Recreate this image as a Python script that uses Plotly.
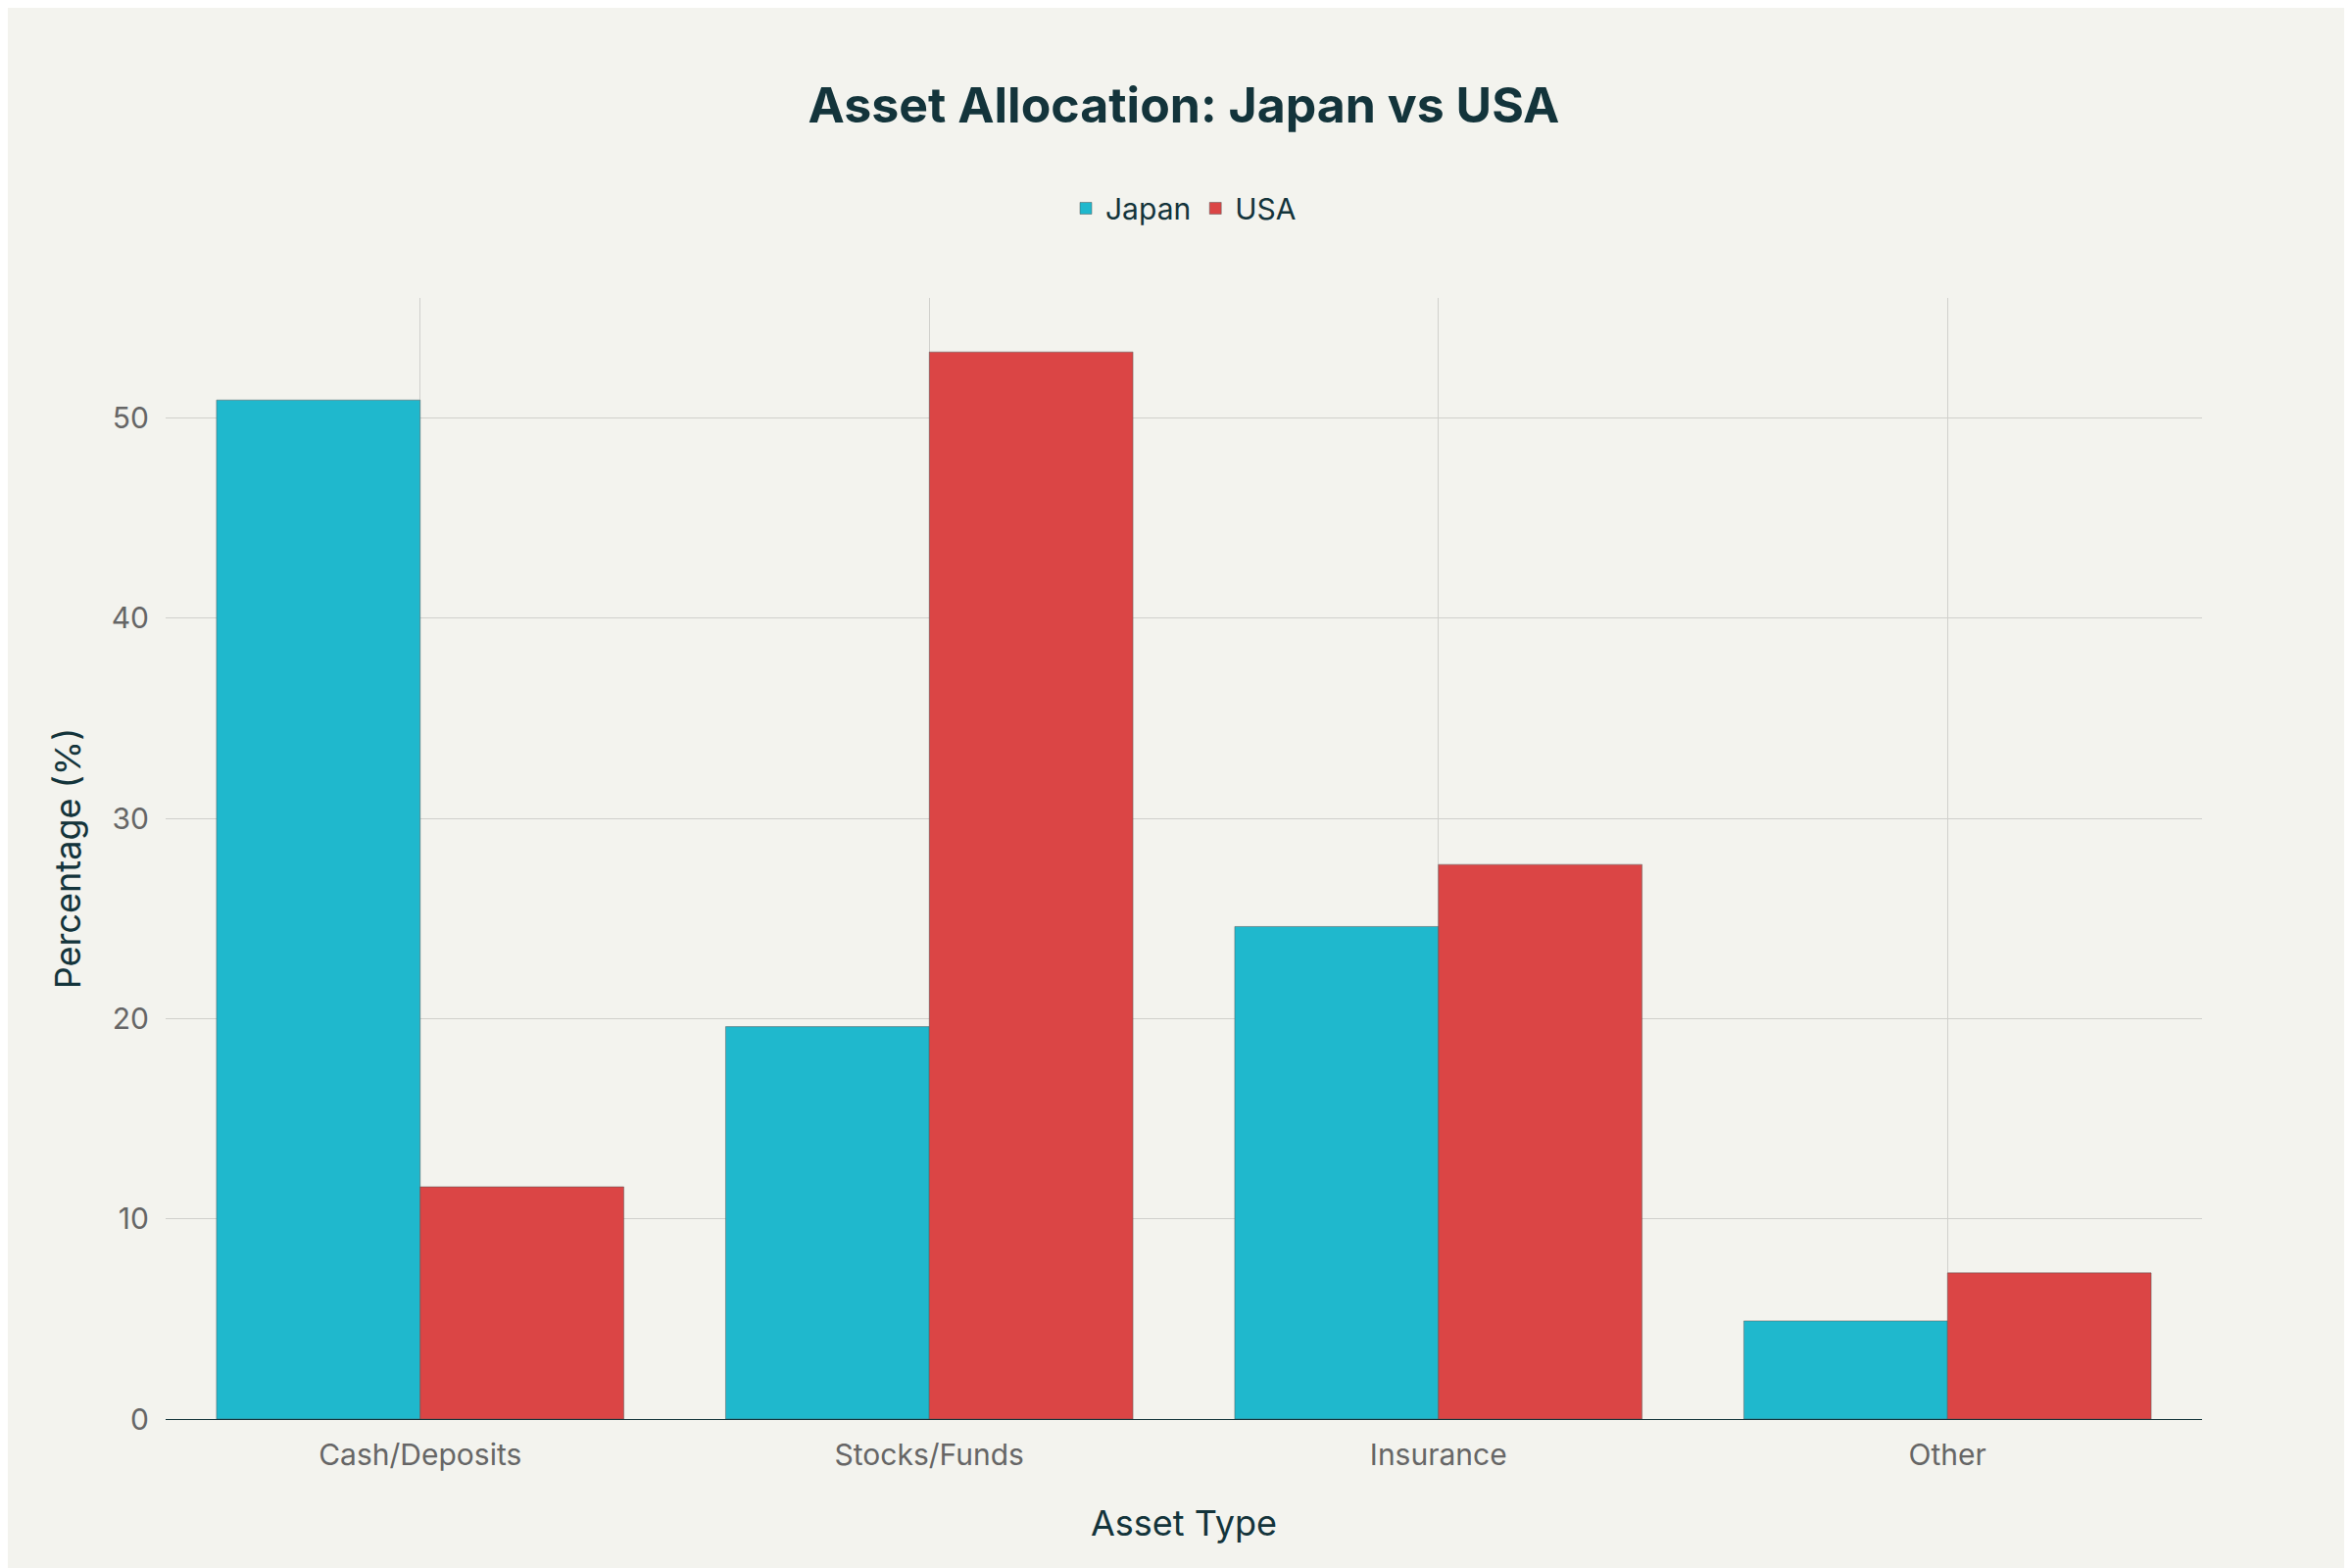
import plotly.graph_objects as go

categories = ["Cash/Deposits", "Stocks/Funds", "Insurance", "Other"]
japan = [50.9, 19.6, 24.6, 4.9]
usa = [11.6, 53.3, 27.7, 7.3]

fig = go.Figure()
fig.add_trace(go.Bar(name="Japan", x=categories, y=japan, marker=dict(color="#1FB8CD", line=dict(color="#555555", width=0.5))))
fig.add_trace(go.Bar(name="USA", x=categories, y=usa, marker=dict(color="#DB4545", line=dict(color="#555555", width=0.5))))

fig.update_layout(
    width=2400, height=1600,
    paper_bgcolor="#F3F3EE", plot_bgcolor="#F3F3EE",
    font=dict(family="Inter, Open Sans, sans-serif", color="#13343B", size=29),
    title=dict(text="<b>Asset Allocation: Japan vs USA</b>", x=0.5, xanchor="center", y=0.938, yanchor="middle", font=dict(size=50)),
    legend=dict(orientation="h", x=0.5, xanchor="center", y=1.08, yanchor="middle", font=dict(size=30)),
    barmode="group", bargap=0.2, bargroupgap=0,
    margin=dict(l=161, r=161, t=296, b=160),
    xaxis=dict(title=dict(text="Asset Type", font=dict(size=36), standoff=40), showgrid=True, gridcolor="#D0D0CC",
               showline=True, linecolor="#13343B", tickfont=dict(color="#666666", size=30),
               ticks="outside", tickcolor="rgba(0,0,0,0)", ticklen=10),
    yaxis=dict(title=dict(text="Percentage (%)", font=dict(size=36), standoff=20), showgrid=True, gridcolor="#D0D0CC",
               zeroline=False, range=[0, 56], tickvals=[0, 10, 20, 30, 40, 50], tickfont=dict(color="#666666", size=30),
               ticks="outside", tickcolor="rgba(0,0,0,0)", ticklen=10),
)
fig.write_html("out.html")
